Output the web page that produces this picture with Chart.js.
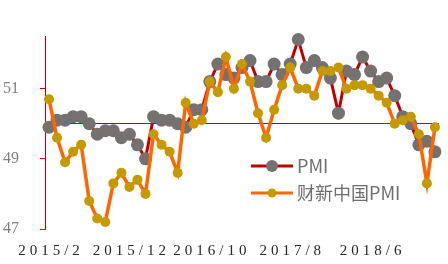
<!DOCTYPE html>
<html><head><meta charset="utf-8">
<script src="https://cdn.jsdelivr.net/npm/chart.js@4"></script>
<style>html,body{margin:0;padding:0;background:#fff;}#wrap{width:448px;height:264px;}</style>
</head><body><div id="wrap"><canvas id="c" width="448" height="264"></canvas></div>
<script>
const categories = [
  '2015/2','2015/3','2015/4','2015/5','2015/6','2015/7','2015/8','2015/9','2015/10','2015/11','2015/12',
  '2016/1','2016/2','2016/3','2016/4','2016/5','2016/6','2016/7','2016/8','2016/9','2016/10','2016/11','2016/12',
  '2017/1','2017/2','2017/3','2017/4','2017/5','2017/6','2017/7','2017/8','2017/9','2017/10','2017/11','2017/12',
  '2018/1','2018/2','2018/3','2018/4','2018/5','2018/6','2018/7','2018/8','2018/9','2018/10','2018/11','2018/12',
  '2019/1','2019/2'
];
const pmi = [
  49.9,50.1,50.1,50.2,50.2,50.0,49.7,49.8,49.8,49.6,49.7,
  49.4,49.0,50.2,50.1,50.1,50.0,49.9,50.4,50.4,51.2,51.7,51.4,
  51.3,51.6,51.8,51.2,51.2,51.7,51.4,51.7,52.4,51.6,51.8,51.6,
  51.3,50.3,51.5,51.4,51.9,51.5,51.2,51.3,50.8,50.2,50.0,49.4,
  49.5,49.2
];
const caixin = [
  50.7,49.6,48.9,49.2,49.4,47.8,47.3,47.2,48.3,48.6,48.2,
  48.4,48.0,49.7,49.4,49.2,48.6,50.6,50.0,50.1,51.2,50.9,51.9,
  51.0,51.7,51.2,50.3,49.6,50.4,51.1,51.6,51.0,51.0,50.8,51.5,
  51.5,51.6,51.0,51.1,51.1,51.0,50.8,50.6,50.0,50.1,50.2,49.7,
  48.3,49.9
];
const seriesNames = ['PMI', '财新中国PMI'];
const yTicks = [47, 49, 51];
const threshold = 50;
const labelEvery = 10;

const RED = '#c00000';
const CLEAR = 'rgba(0,0,0,0)';

const spacedX = {
  id: 'spacedX',
  beforeDraw(chart) {
    const s = chart.scales.x;
    if (!s._spaced) {
      const orig = s.drawLabels;
      s.drawLabels = function (area) {
        const ctx = this.ctx;
        ctx.save();
        ctx.letterSpacing = '4px';
        ctx.translate(2, 0);
        orig.call(this, area);
        ctx.restore();
      };
      s._spaced = true;
    }
  }
};

const lineLegend = {
  id: 'lineLegend',
  afterDraw(chart) {
    const ctx = chart.ctx;
    const order = [1, 0];
    const radii = [6, 4.5];
    order.forEach((di, i) => {
      const ds = chart.data.datasets[di];
      const y = 166 + i * 27;
      ctx.save();
      ctx.strokeStyle = ds.borderColor;
      ctx.lineWidth = 3;
      ctx.beginPath(); ctx.moveTo(251, y); ctx.lineTo(293, y); ctx.stroke();
      ctx.fillStyle = ds.pointBackgroundColor;
      ctx.beginPath(); ctx.arc(272, y, radii[i], 0, Math.PI * 2); ctx.fill();
      ctx.fillStyle = '#6e6e6e';
      ctx.font = '18px "Noto Sans CJK SC", "Noto Sans", sans-serif';
      ctx.textBaseline = 'middle';
      ctx.textAlign = 'left';
      ctx.fillText(ds.label, 297, y);
      ctx.restore();
    });
  }
};

new Chart(document.getElementById('c'), {
  type: 'line',
  data: {
    labels: categories,
    datasets: [
      { label: seriesNames[1], data: caixin, borderColor: '#ff6600', borderWidth: 3.5,
        pointRadius: 5, pointBackgroundColor: '#c49a00', pointBorderColor: '#c49a00', pointBorderWidth: 0,
        tension: 0, clip: false, order: 0 },
      { label: seriesNames[0], data: pmi, borderColor: RED, borderWidth: 3,
        pointRadius: 6.5, pointBackgroundColor: '#767171', pointBorderColor: '#767171', pointBorderWidth: 0,
        tension: 0, clip: false, order: 1 }
    ]
  },
  options: {
    responsive: false,
    animation: false,
    devicePixelRatio: 1,
    events: [],
    layout: { padding: { left: 3, top: 36, right: 0, bottom: 0 } },
    plugins: { legend: { display: false }, tooltip: { enabled: false } },
    scales: {
      x: {
        type: 'category',
        offset: true,
        grid: { display: false, drawTicks: false },
        border: { display: false },
        ticks: {
          autoSkip: false, maxRotation: 0, minRotation: 0, padding: 13,
          color: '#262626',
          font: { family: 'Liberation Serif', size: 15 },
          callback: (v, i) => (i % labelEvery === 0 ? categories[i] : '')
        },
        afterFit: s => { s.height = 35; }
      },
      y: {
        min: 47, max: 52.5,
        afterBuildTicks: s => {
          s.ticks = [...yTicks, threshold].sort((a, b) => a - b).map(v => ({ value: v }));
        },
        grid: {
          drawOnChartArea: true,
          drawTicks: true,
          tickLength: 5,
          lineWidth: 1,
          color: c => (c.tick && c.tick.value === threshold ? RED : CLEAR),
          tickColor: c => (c.tick && c.tick.value === threshold ? CLEAR : RED)
        },
        border: { display: true, color: RED, width: 1 },
        ticks: {
          crossAlign: 'far',
          color: '#808080',
          font: { family: 'Liberation Serif', size: 16 },
          callback: v => (yTicks.includes(v) ? String(v) : '')
        },
        afterFit: s => { s.width = 42; }
      }
    }
  },
  plugins: [spacedX, lineLegend]
});
</script>
</body></html>
